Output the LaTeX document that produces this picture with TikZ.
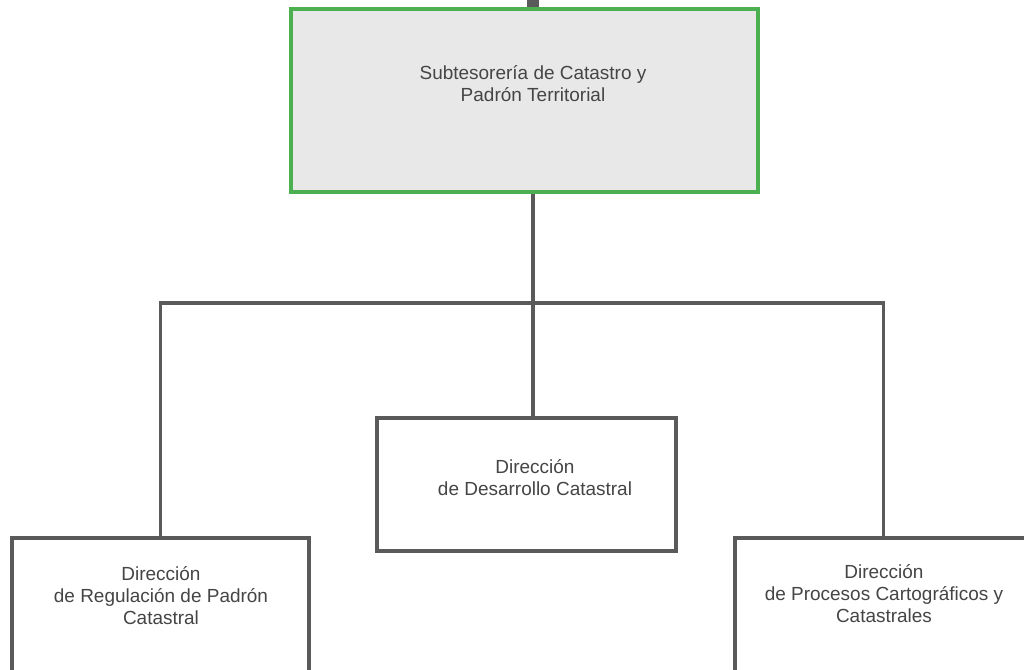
\documentclass[tikz,border=0pt]{standalone}
\usepackage{fontspec}
\setmainfont{Liberation Sans}
\usetikzlibrary{shapes, arrows, positioning}
\definecolor{linegray}{HTML}{5A5A5A}
\definecolor{boxgreen}{HTML}{4CB050}
\definecolor{topfill}{HTML}{E8E8E8}
\definecolor{textgray}{HTML}{454545}
\tikzstyle{topbox} = [rectangle, minimum width=9.34cm, minimum height=3.66cm, draw=boxgreen, line width=2pt, fill=topfill]
\tikzstyle{dirbox} = [rectangle, minimum width=5.94cm, minimum height=3cm, draw=linegray, line width=2pt, fill=white]
\tikzstyle{boxtext} = [text=textgray, font=\fontsize{10.8}{12.5}\selectfont, align=center, inner sep=0pt]
\tikzstyle{line} = [draw=linegray, line width=2pt]

\begin{document}
\begin{tikzpicture}[node distance=2cm, align=center]
    \useasboundingbox (0,0) rectangle (20.48,-13.4);
    \clip (0,0) rectangle (20.48,-13.4);
    \node (sub) [topbox] at (10.49,-2.01) {};
    \node (desarrollo) [dirbox, minimum width=5.98cm, minimum height=2.66cm] at (10.53,-9.69) {};
    \node (regulacion) [dirbox] at (3.21,-12.26) {};
    \node (procesos) [dirbox] at (17.67,-12.26) {};

    \node (subtxt) [boxtext] at (10.66,-1.68) {Subtesorería de Catastro y\\Padrón Territorial};
    \node (desarrollotxt) [boxtext] at (10.7,-9.56) {Dirección\\de Desarrollo Catastral};
    \node (regulaciontxt) [boxtext] at (3.22,-11.92) {Dirección\\de Regulación de Padrón\\Catastral};
    \node (procesostxt) [boxtext] at (17.68,-11.88) {Dirección\\de Procesos Cartográficos y\\Catastrales};

    \coordinate (split) at (10.66,-6.06);
    \coordinate (above) at (10.66,0);
    \draw [line, line width=7pt] (sub.north -| split) -- (above);
    \draw [line] (sub.south -| split) -- (split);
    \draw [line] (regulacion.north) |- (split) -| (procesos.north);
    \draw [line] (split) -- (desarrollo.north -| split);
\end{tikzpicture}
\end{document}
